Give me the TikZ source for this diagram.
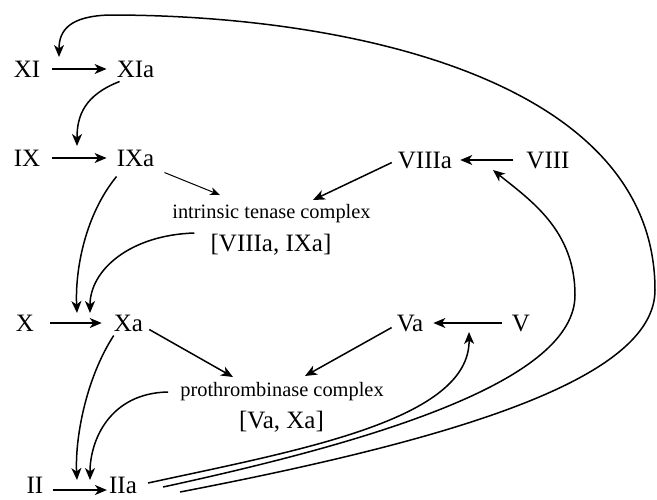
\documentclass[tikz,border=0pt]{standalone}
\usepackage{fontspec}
\setmainfont{Liberation Serif}
\usetikzlibrary{arrows.meta,calc}
\begin{document}
\begin{tikzpicture}[x=1pt,y=-1pt,
  lab/.style={font=\fontsize{25}{27}\selectfont, inner sep=0pt, anchor=center},
  brk/.style={font=\fontsize{25}{27}\selectfont, inner sep=0pt, anchor=center},
  small/.style={font=\fontsize{20.4}{22}\selectfont, inner sep=0pt, anchor=center},
  arr/.style={line width=1.5pt, -{Stealth[length=12pt,width=10pt,inset=3.5pt]}},
  thinarr/.style={line width=1pt, -{Stealth[length=10pt,width=8pt,inset=3pt]}}]
\useasboundingbox (0,0) rectangle (657,499);
% nodes
\node[lab] (XI) at (27,69) {XI};
\node[lab] (XIa) at (135.5,69) {XIa};
\node[lab] (IX) at (27,158) {IX};
\node[lab] (IXa) at (135.5,158) {IXa};
\node[lab] (VIIIa) at (425,160) {VIIIa};
\node[lab] (VIII) at (548,160) {VIII};
\node[small] (ten) at (271.5,214) {intrinsic tenase complex};
\node[brk] (tenb) at (271,245) {[VIIIa, IXa]};
\node[lab] (X) at (25,323) {X};
\node[lab] (Xa) at (128.5,323) {Xa};
\node[lab] (Va) at (410,323) {Va};
\node[lab] (V) at (521,323) {V};
\node[small] (pro) at (282,392) {prothrombinase complex};
\node[brk] (prob) at (281.5,422) {[Va, Xa]};
\node[lab] (II) at (35,485) {II};
\node[lab] (IIa) at (123,485) {IIa};
% arrow targets
\coordinate (c1) at (77,146);
\coordinate (c2) at (77,313);
\coordinate (c3) at (90,313);
\coordinate (c4) at (77,480);
\coordinate (c5) at (90,480);
\coordinate (c6) at (469,332);
\coordinate (c7) at (493,170);
\coordinate (c8) at (59,57);
\coordinate (tA) at (220,195);
\coordinate (tB) at (313,200);
\coordinate (pA) at (233,377);
\coordinate (pB) at (305,376);
% straight arrows
\draw[arr,shorten <=12pt, shorten >=10pt] (XI.east) -- (XI.east -| XIa.west);
\draw[arr,shorten <=12pt, shorten >=10pt] (IX.east) -- (IX.east -| IXa.west);
\draw[arr,shorten <=16pt, shorten >=12pt] (X.east) -- (X.east -| Xa.west);
\draw[arr,shorten <=9pt, shorten >=2pt] ($(II.east)+(0,5)$) -- ($(II.east -| IIa.west)+(0,5)$);
\draw[arr,shorten <=13pt, shorten >=8pt] (VIII.west) -- (VIII.west -| VIIIa.east);
\draw[arr,shorten <=10pt, shorten >=10pt] (V.west) -- (V.west -| Va.east);
\draw[thinarr] ($(IXa.south east)+(10,6)$) -- (tA);
\draw[arr] ($(VIIIa.south west)+(-6,-6)$) -- (tB);
\draw[arr] ($(Xa.south east)+(6,-2)$) -- (pA);
\draw[arr] ($(Va.south west)+(-5,-4)$) -- (pB);
% curved arrows
\draw[arr] ($(XIa.south west)+(3,4)$) .. controls (85,95) and (77,115) .. (c1);
\draw[arr] ($(IXa.south west)+(0,10)$) .. controls (85,215) and (75,270) .. (c2);
\draw[arr] ($(tenb.west)+(-16,-12)$) .. controls (130,235) and (90,270) .. (c3);
\draw[arr] ($(Xa.south west)+(0,4)$) .. controls (85,380) and (75,440) .. (c4);
\draw[arr] ($(pro.west)+(-12,0)$) .. controls (110,393) and (90,440) .. (c5);
\draw[arr] ($(IIa.east)+(11,-2)$) .. controls (300,450) and (470,420) .. (c6);
\draw[arr] ($(IIa.east)+(26,2)$) .. controls (380,440) and (575,380) .. (575,295)
  .. controls (575,230) and (530,200) .. (c7);
\draw[arr] ($(IIa.east)+(43,7)$) .. controls (450,440) and (655,380) .. (655,290)
  .. controls (655,80) and (350,15) .. (110,15) .. controls (70,16) and (59,30) .. (c8);
\end{tikzpicture}
\end{document}
